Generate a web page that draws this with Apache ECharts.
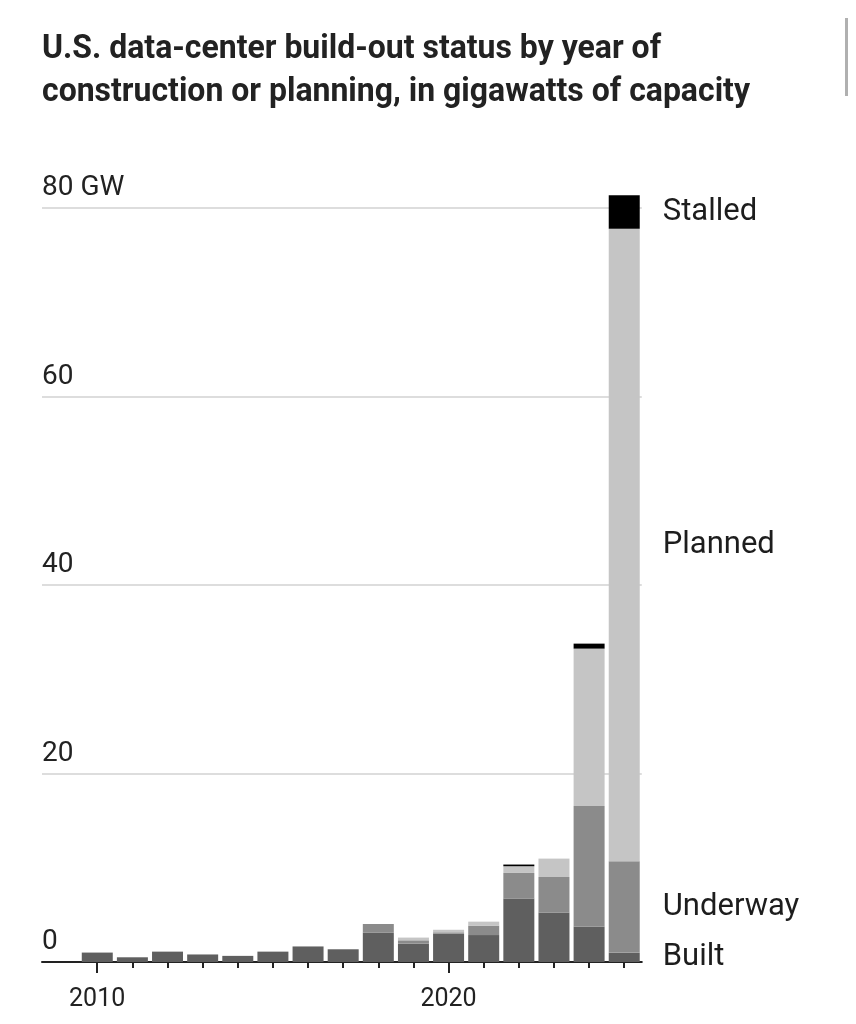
<!DOCTYPE html>
<html>
<head>
<meta charset="utf-8">
<script src="https://cdn.jsdelivr.net/npm/echarts@6/dist/echarts.min.js"></script>
<style>
  html, body { margin: 0; padding: 0; background: #fff; }
  #chart { width: 856px; height: 1024px; }
</style>
</head>
<body>
<div id="chart"></div>
<script>
// ---- Data (GW of capacity by year) ----
const years    = [2010, 2011, 2012, 2013, 2014, 2015, 2016, 2017, 2018, 2019, 2020, 2021, 2022, 2023, 2024, 2025];
const built    = [1.0, 0.5, 1.1, 0.8, 0.65, 1.1, 1.65, 1.35, 3.1, 1.95, 3.0, 2.86, 6.73, 5.24, 3.75, 1.0];
const underway = [0, 0, 0, 0, 0, 0, 0, 0, 0.93, 0.35, 0.15, 1.0, 2.72, 3.78, 12.8, 9.7];
const planned  = [0, 0, 0, 0, 0, 0, 0, 0, 0, 0.29, 0.27, 0.42, 0.71, 1.95, 16.7, 67.1];
const stalled  = [0, 0, 0, 0, 0, 0, 0, 0, 0, 0, 0, 0, 0.18, 0, 0.53, 3.56];
const yTicks   = [0, 20, 40, 60, 80];
const xLabelYears = [2010, 2020];
const seriesNames = ['Built', 'Underway', 'Planned', 'Stalled'];
const titleLines = ['U.S. data-center build-out status by year of', 'construction or planning, in gigawatts of capacity'];

const colors = { Built: '#5f5f5f', Underway: '#8b8b8b', Planned: '#c5c5c5', Stalled: '#000000' };
const valuesByName = { Built: built, Underway: underway, Planned: planned, Stalled: stalled };

const chart = echarts.init(document.getElementById('chart'), null, { renderer: 'canvas' });

function makeSeries(name) {
  const vals = valuesByName[name];
  return {
    name: name,
    type: 'bar',
    stack: 'total',
    xAxisIndex: 0,
    yAxisIndex: 0,
    barWidth: 31,
    clip: false,
    z: 3,
    itemStyle: { color: colors[name] },
    emphasis: { disabled: true },
    data: vals.map((v, i) => {
      const item = { value: v };
      if (i === vals.length - 1) {
        item.label = {
          show: true,
          position: 'right',
          distance: 23,
          formatter: '{a}',
          fontFamily: 'Roboto',
          fontSize: 31,
          color: '#1d1d1d'
        };
      }
      return item;
    })
  };
}

const titleStyle = { fontFamily: 'Roboto', fontWeight: 'bold', fontSize: 34, fill: '#222222' };

const option = {
  backgroundColor: '#ffffff',
  animation: false,
  graphic: [
    { type: 'rect', shape: { x: 845, y: 18, width: 3, height: 78 }, style: { fill: '#b0b0b0' } },
    { type: 'text', x: 42, y: 32, scaleX: 0.94, style: Object.assign({ text: titleLines[0] }, titleStyle) },
    { type: 'text', x: 42, y: 75, scaleX: 0.94, style: Object.assign({ text: titleLines[1] }, titleStyle) }
  ],
  grid: [
    // bars: category bands aligned to the year ticks
    { left: 79.7, right: 214.2, top: 208, bottom: 62, outerBoundsMode: 'none' },
    // axes frame (axis line, ticks, gridlines)
    { left: 42, right: 214.2, top: 208, bottom: 62, outerBoundsMode: 'none' }
  ],
  xAxis: [
    {
      type: 'category',
      gridIndex: 0,
      data: years,
      boundaryGap: true,
      axisLine: { show: false },
      axisTick: { show: false },
      axisLabel: { show: false }
    },
    {
      type: 'value',
      gridIndex: 1,
      min: 2008.43,
      max: 2025.5,
      axisLine: { show: true, lineStyle: { color: '#222', width: 2 } },
      axisTick: { show: true, customValues: years, length: 6, lineStyle: { color: '#222', width: 2 } },
      axisLabel: { show: false },
      splitLine: { show: false }
    },
    {
      type: 'value',
      gridIndex: 1,
      position: 'bottom',
      min: 2008.43,
      max: 2025.5,
      axisLine: { show: false },
      axisTick: { show: true, customValues: xLabelYears, length: 11, lineStyle: { color: '#222', width: 2 } },
      axisLabel: {
        show: true,
        customValues: xLabelYears,
        margin: 25,
        fontFamily: 'Roboto',
        fontSize: 25,
        color: '#222',
        formatter: function (v) { return String(v); }
      },
      splitLine: { show: false }
    }
  ],
  yAxis: [
    {
      type: 'value',
      gridIndex: 0,
      min: 0,
      max: 80,
      interval: 20,
      show: false
    },
    {
      type: 'value',
      gridIndex: 1,
      min: 0,
      max: 80,
      interval: 20,
      axisLine: { show: false },
      axisTick: { show: false },
      splitLine: { show: true, lineStyle: { color: '#dddddd', width: 2 } },
      axisLabel: {
        show: true,
        inside: true,
        margin: 0,
        align: 'left',
        verticalAlign: 'bottom',
        padding: [0, 0, 6, 0],
        fontFamily: 'Roboto',
        fontSize: 28,
        color: '#222',
        formatter: function (v) { return yTicks.indexOf(v) < 0 ? '' : (v === 80 ? v + ' GW' : String(v)); }
      }
    }
  ],
  series: seriesNames.map(makeSeries)
};

chart.setOption(option);
</script>
</body>
</html>
